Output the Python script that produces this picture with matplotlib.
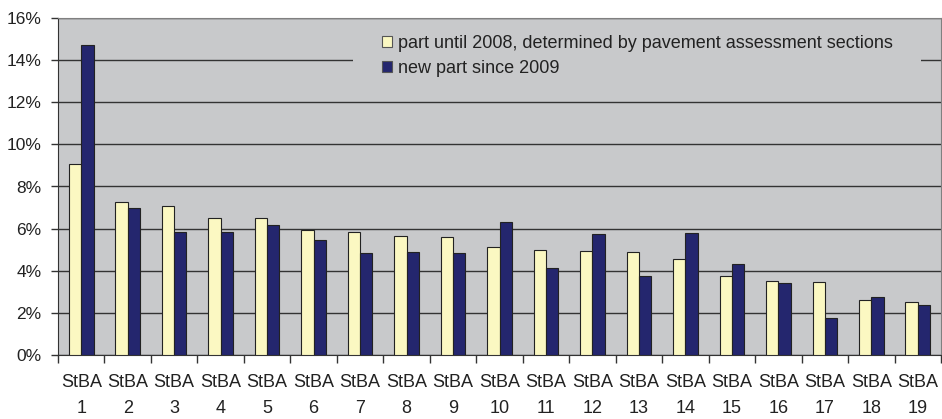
import numpy as np
import matplotlib
matplotlib.use('Agg')
import matplotlib.pyplot as plt
from matplotlib.ticker import FixedLocator, FuncFormatter
from matplotlib.patches import Rectangle

plt.rcParams['font.family'] = ['Liberation Sans', 'DejaVu Sans']

# Werte je Bauamt (Anteil in %)
offices = ['StBA\n%d' % i for i in range(1, 20)]
part_until_2008 = [9.08, 7.28, 7.09, 6.52, 6.52, 5.95, 5.86, 5.67, 5.62, 5.11,
                   5.00, 4.95, 4.88, 4.57, 3.74, 3.50, 3.45, 2.63, 2.50]
part_since_2009 = [14.72, 6.96, 5.86, 5.82, 6.17, 5.44, 4.83, 4.88, 4.83, 6.33,
                   4.15, 5.76, 3.74, 5.79, 4.31, 3.40, 1.74, 2.77, 2.36]
labels = ['part until 2008, determined by pavement assessment sections',
          'new part since 2009']

W, H = 942, 419
fig = plt.figure(figsize=(W / 100, H / 100), dpi=100)
ax = fig.add_axes([58 / W, 1 - 355 / H, (941 - 58) / W, (355 - 18) / H])
ax.set_facecolor('#c8c9cb')

x = np.arange(len(offices))
bw = 0.265
ax.bar(x - bw / 2, part_until_2008, bw, color='#fbf8c2', edgecolor='#222222',
       linewidth=0.8, label=labels[0], zorder=3)
ax.bar(x + bw / 2, part_since_2009, bw, color='#24266e', edgecolor='#222222',
       linewidth=0.8, label=labels[1], zorder=3)

ax.set_xlim(-0.5, len(offices) - 0.5)
ax.set_ylim(0, 16)
ax.set_yticks(np.arange(0, 17, 2))
ax.yaxis.set_major_formatter(FuncFormatter(lambda v, p: '%d%%' % v))
ax.grid(axis='y', color='#333333', linewidth=1.0, zorder=1)

ax.set_xticks(x)
ax.set_xticklabels(offices, linespacing=1.65)
ax.xaxis.set_minor_locator(FixedLocator(np.arange(-0.5, len(offices), 1.0)))
ax.tick_params(axis='x', which='major', length=0, pad=14, labelsize=13,
               labelcolor='#222222')
ax.tick_params(axis='x', which='minor', length=6, color='#333333', width=1)
ax.tick_params(axis='y', length=5, color='#333333', width=1, pad=7,
               labelsize=12.5, labelcolor='#222222')

for s in ['top', 'right']:
    ax.spines[s].set_color('#808080')
for s in ['left', 'bottom']:
    ax.spines[s].set_color('#333333')

# Legendenhintergrund verdeckt die Gitterlinie
ax.add_patch(Rectangle(((353 - 58) / 883, 0.79), (921 - 353) / 883, 0.205,
                       transform=ax.transAxes, facecolor='#c8c9cb',
                       edgecolor='none', zorder=2))

leg = ax.legend(loc='upper left', bbox_to_anchor=((378 - 58) / 883, 1 - 13 / 337),
                frameon=False, fontsize=13,
                handlelength=0.6, handleheight=0.6, handletextpad=0.3,
                labelspacing=0.45, borderpad=0.2, borderaxespad=0)
for t in leg.get_texts():
    t.set_color('#222222')
for h in leg.legend_handles:
    h.set_edgecolor('#555555')
leg.set_zorder(5)

fig.savefig('out.png', dpi=100)
